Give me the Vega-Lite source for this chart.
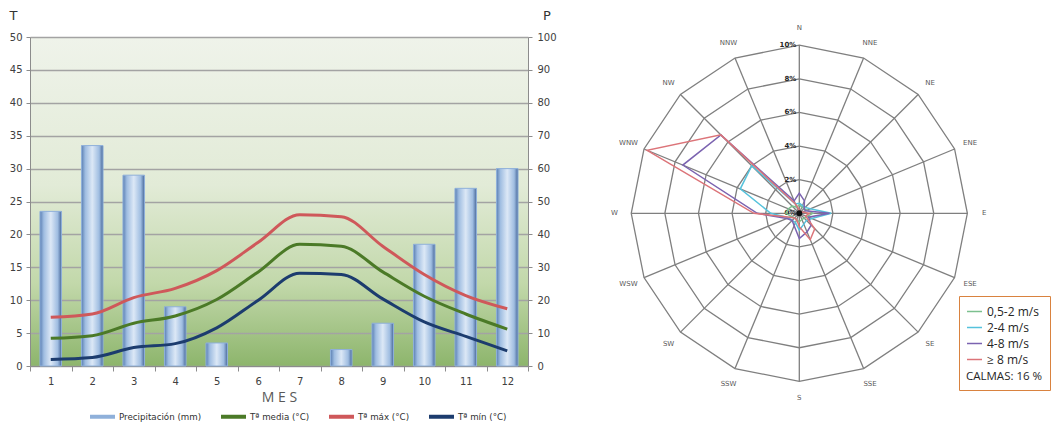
{
  "$schema": "https://vega.github.io/schema/vega-lite/v6.json",
  "background": "white",
  "padding": {"left": 9, "top": 9, "right": 0, "bottom": 0},
  "bounds": "flush",
  "spacing": 95,
  "config": {"view": {"stroke": null}, "font": "DejaVu Sans"},
  "datasets": {
    "precip": [
      {"month": 1, "P": 47}, {"month": 2, "P": 67}, {"month": 3, "P": 58}, {"month": 4, "P": 18},
      {"month": 5, "P": 7}, {"month": 8, "P": 5}, {"month": 9, "P": 13}, {"month": 10, "P": 37},
      {"month": 11, "P": 54}, {"month": 12, "P": 60}
    ],
    "temps": [
      {"month": 1, "serie": "Tª media (°C)", "T": 4.2}, {"month": 2, "serie": "Tª media (°C)", "T": 4.6},
      {"month": 3, "serie": "Tª media (°C)", "T": 6.5}, {"month": 4, "serie": "Tª media (°C)", "T": 7.6},
      {"month": 5, "serie": "Tª media (°C)", "T": 10.1}, {"month": 6, "serie": "Tª media (°C)", "T": 14.3},
      {"month": 7, "serie": "Tª media (°C)", "T": 18.5}, {"month": 8, "serie": "Tª media (°C)", "T": 18.2},
      {"month": 9, "serie": "Tª media (°C)", "T": 14.3}, {"month": 10, "serie": "Tª media (°C)", "T": 10.6},
      {"month": 11, "serie": "Tª media (°C)", "T": 7.9}, {"month": 12, "serie": "Tª media (°C)", "T": 5.6},
      {"month": 1, "serie": "Tª máx (°C)", "T": 7.4}, {"month": 2, "serie": "Tª máx (°C)", "T": 7.9},
      {"month": 3, "serie": "Tª máx (°C)", "T": 10.4}, {"month": 4, "serie": "Tª máx (°C)", "T": 11.8},
      {"month": 5, "serie": "Tª máx (°C)", "T": 14.5}, {"month": 6, "serie": "Tª máx (°C)", "T": 18.8},
      {"month": 7, "serie": "Tª máx (°C)", "T": 23.0}, {"month": 8, "serie": "Tª máx (°C)", "T": 22.7},
      {"month": 9, "serie": "Tª máx (°C)", "T": 18.2}, {"month": 10, "serie": "Tª máx (°C)", "T": 13.9},
      {"month": 11, "serie": "Tª máx (°C)", "T": 10.7}, {"month": 12, "serie": "Tª máx (°C)", "T": 8.7},
      {"month": 1, "serie": "Tª mín (°C)", "T": 1.0}, {"month": 2, "serie": "Tª mín (°C)", "T": 1.3},
      {"month": 3, "serie": "Tª mín (°C)", "T": 2.8}, {"month": 4, "serie": "Tª mín (°C)", "T": 3.4},
      {"month": 5, "serie": "Tª mín (°C)", "T": 5.8}, {"month": 6, "serie": "Tª mín (°C)", "T": 10.0},
      {"month": 7, "serie": "Tª mín (°C)", "T": 14.1}, {"month": 8, "serie": "Tª mín (°C)", "T": 13.9},
      {"month": 9, "serie": "Tª mín (°C)", "T": 10.2}, {"month": 10, "serie": "Tª mín (°C)", "T": 6.7},
      {"month": 11, "serie": "Tª mín (°C)", "T": 4.5}, {"month": 12, "serie": "Tª mín (°C)", "T": 2.3}
    ],
    "dirs": [
      {"dir": "N", "angle": 0, "0,5-2 m/s": 0.5, "2-4 m/s": 0.6, "4-8 m/s": 1.2, "≥ 8 m/s": 0.2},
      {"dir": "NNE", "angle": 22.5, "0,5-2 m/s": 0.4, "2-4 m/s": 0.5, "4-8 m/s": 0.8, "≥ 8 m/s": 0.1},
      {"dir": "NE", "angle": 45, "0,5-2 m/s": 0.4, "2-4 m/s": 0.5, "4-8 m/s": 0.4, "≥ 8 m/s": 0.1},
      {"dir": "ENE", "angle": 67.5, "0,5-2 m/s": 0.5, "2-4 m/s": 0.7, "4-8 m/s": 0.4, "≥ 8 m/s": 0.2},
      {"dir": "E", "angle": 90, "0,5-2 m/s": 0.8, "2-4 m/s": 1.9, "4-8 m/s": 1.8, "≥ 8 m/s": 0.6},
      {"dir": "ESE", "angle": 112.5, "0,5-2 m/s": 0.5, "2-4 m/s": 0.8, "4-8 m/s": 0.6, "≥ 8 m/s": 0.4},
      {"dir": "SE", "angle": 135, "0,5-2 m/s": 0.4, "2-4 m/s": 0.6, "4-8 m/s": 1.0, "≥ 8 m/s": 1.3},
      {"dir": "SSE", "angle": 157.5, "0,5-2 m/s": 0.4, "2-4 m/s": 0.7, "4-8 m/s": 1.2, "≥ 8 m/s": 1.7},
      {"dir": "S", "angle": 180, "0,5-2 m/s": 0.5, "2-4 m/s": 1.0, "4-8 m/s": 1.5, "≥ 8 m/s": 0.8},
      {"dir": "SSW", "angle": 202.5, "0,5-2 m/s": 0.4, "2-4 m/s": 0.6, "4-8 m/s": 0.8, "≥ 8 m/s": 0.4},
      {"dir": "SW", "angle": 225, "0,5-2 m/s": 0.4, "2-4 m/s": 0.6, "4-8 m/s": 0.6, "≥ 8 m/s": 0.4},
      {"dir": "WSW", "angle": 247.5, "0,5-2 m/s": 0.5, "2-4 m/s": 0.7, "4-8 m/s": 0.8, "≥ 8 m/s": 0.6},
      {"dir": "W", "angle": 270, "0,5-2 m/s": 0.8, "2-4 m/s": 1.7, "4-8 m/s": 2.5, "≥ 8 m/s": 2.7},
      {"dir": "WNW", "angle": 292.5, "0,5-2 m/s": 0.7, "2-4 m/s": 3.8, "4-8 m/s": 7.5, "≥ 8 m/s": 9.8},
      {"dir": "NW", "angle": 315, "0,5-2 m/s": 0.6, "2-4 m/s": 4.0, "4-8 m/s": 6.6, "≥ 8 m/s": 6.6},
      {"dir": "NNW", "angle": 337.5, "0,5-2 m/s": 0.4, "2-4 m/s": 0.6, "4-8 m/s": 0.8, "≥ 8 m/s": 0.6}
    ],
    "rings": [
      {"ring": 0, "label": "0%", "angles": [0, 22.5, 45, 67.5, 90, 112.5, 135, 157.5, 180, 202.5, 225, 247.5, 270, 292.5, 315, 337.5]},
      {"ring": 2, "label": "2%", "angles": [0, 22.5, 45, 67.5, 90, 112.5, 135, 157.5, 180, 202.5, 225, 247.5, 270, 292.5, 315, 337.5]},
      {"ring": 4, "label": "4%", "angles": [0, 22.5, 45, 67.5, 90, 112.5, 135, 157.5, 180, 202.5, 225, 247.5, 270, 292.5, 315, 337.5]},
      {"ring": 6, "label": "6%", "angles": [0, 22.5, 45, 67.5, 90, 112.5, 135, 157.5, 180, 202.5, 225, 247.5, 270, 292.5, 315, 337.5]},
      {"ring": 8, "label": "8%", "angles": [0, 22.5, 45, 67.5, 90, 112.5, 135, 157.5, 180, 202.5, 225, 247.5, 270, 292.5, 315, 337.5]},
      {"ring": 10, "label": "10%", "angles": [0, 22.5, 45, 67.5, 90, 112.5, 135, 157.5, 180, 202.5, 225, 247.5, 270, 292.5, 315, 337.5]}
    ]
  },
  "resolve": {"scale": {"stroke": "independent", "color": "independent"}, "legend": {"stroke": "independent", "color": "independent"}},
  "hconcat": [
    {
      "width": 498,
      "height": 329,
      "view": {
        "stroke": null,
        "fill": {
          "gradient": "linear", "x1": 0, "y1": 0, "x2": 0, "y2": 1,
          "stops": [
            {"offset": 0, "color": "#eff3ea"},
            {"offset": 0.45, "color": "#e2ebd7"},
            {"offset": 0.75, "color": "#c2d8aa"},
            {"offset": 1, "color": "#8db56c"}
          ]
        }
      },
      "encoding": {
        "x": {
          "field": "month", "type": "ordinal",
          "scale": {"paddingInner": 0, "paddingOuter": 0},
          "axis": {
            "title": "M E S", "labelAngle": 0, "tickBand": "extent", "tickSize": 5, "labelPadding": 5,
            "domainColor": "#8c8c8c", "tickColor": "#8c8c8c", "labelFontSize": 10, "labelColor": "#404040",
            "titleFontSize": 14, "titleFontWeight": "normal", "titleColor": "#595959", "titlePadding": 4,
            "titleFont": "Open Sans"
          }
        }
      },
      "layer": [
        {
          "data": {"name": "precip"},
          "mark": {
            "type": "bar", "width": {"band": 0.52}, "strokeWidth": 1,
            "fill": {
              "gradient": "linear", "x1": 0, "y1": 0, "x2": 1, "y2": 0,
              "stops": [
                {"offset": 0, "color": "#5a7fb3"},
                {"offset": 0.18, "color": "#9fbde1"},
                {"offset": 0.5, "color": "#dce8f6"},
                {"offset": 0.82, "color": "#9fbde1"},
                {"offset": 1, "color": "#48689a"}
              ]
            }
          },
          "encoding": {
            "y": {
              "field": "P", "type": "quantitative", "scale": {"domain": [0, 100], "nice": false},
              "axis": {
                "orient": "right", "values": [0, 10, 20, 30, 40, 50, 60, 70, 80, 90, 100], "grid": false,
                "title": "P", "titleAngle": 0, "titleX": 18.5, "titleY": -22, "titleAlign": "center", "titleBaseline": "middle",
                "titleFontSize": 13, "titleFontWeight": "normal", "titleColor": "#333333",
                "domainColor": "#8c8c8c", "tickColor": "#8c8c8c", "tickSize": 4, "labelPadding": 5,
                "labelFontSize": 10, "labelColor": "#404040"
              }
            },
            "stroke": {"datum": "Precipitación (mm)", "type": "nominal"}
          }
        },
        {
          "data": {"name": "temps"},
          "mark": {"type": "line", "strokeWidth": 3, "interpolate": "monotone"},
          "encoding": {
            "y": {
              "field": "T", "type": "quantitative", "scale": {"domain": [0, 50], "nice": false},
              "axis": {
                "orient": "left", "values": [0, 5, 10, 15, 20, 25, 30, 35, 40, 45, 50],
                "title": "T", "titleAngle": 0, "titleX": -17, "titleY": -22, "titleAlign": "center", "titleBaseline": "middle",
                "titleFontSize": 13, "titleFontWeight": "normal", "titleColor": "#333333",
                "grid": true, "gridColor": "#a3a3a3", "gridWidth": 1.5,
                "domainColor": "#8c8c8c", "tickColor": "#8c8c8c", "tickSize": 4, "labelPadding": 4,
                "labelFontSize": 10, "labelColor": "#404040"
              }
            },
            "stroke": {
              "field": "serie", "type": "nominal",
              "scale": {
                "domain": ["Precipitación (mm)", "Tª media (°C)", "Tª máx (°C)", "Tª mín (°C)"],
                "range": ["#8fb0da", "#4b7a27", "#cf585a", "#1c3c6e"]
              },
              "legend": {
                "orient": "none", "legendX": 58, "legendY": 365, "direction": "horizontal", "title": null,
                "symbolType": "stroke", "symbolSize": 625, "symbolStrokeWidth": 4, "labelFontSize": 8.7,
                "labelColor": "#303030", "columnPadding": 11, "labelOffset": 2
              }
            }
          }
        }
      ],
      "resolve": {"scale": {"y": "independent"}}
    },
    {
      "width": 352.6,
      "height": 352.6,
      "layer": [
        {
          "data": {"name": "rings"},
          "transform": [
            {"flatten": ["angles"], "as": ["angle"]},
            {"calculate": "datum.ring*sin(datum.angle*PI/180)", "as": "x"},
            {"calculate": "datum.ring*cos(datum.angle*PI/180)", "as": "y"}
          ],
          "mark": {"type": "line", "interpolate": "linear-closed", "color": "#7f7f7f", "strokeWidth": 1.3},
          "encoding": {
            "x": {"field": "x", "type": "quantitative", "scale": {"domain": [-10.49, 10.49], "nice": false, "zero": false}, "axis": null},
            "y": {"field": "y", "type": "quantitative", "scale": {"domain": [-10.49, 10.49], "nice": false, "zero": false}, "axis": null},
            "detail": {"field": "ring", "type": "nominal"},
            "order": {"field": "angle", "type": "quantitative"}
          }
        },
        {
          "data": {"name": "dirs"},
          "transform": [
            {"calculate": "10*sin(datum.angle*PI/180)", "as": "ex"},
            {"calculate": "10*cos(datum.angle*PI/180)", "as": "ey"}
          ],
          "mark": {"type": "rule", "color": "#7f7f7f", "strokeWidth": 1.3},
          "encoding": {
            "x": {"field": "ex", "type": "quantitative"},
            "y": {"field": "ey", "type": "quantitative"},
            "x2": {"datum": 0},
            "y2": {"datum": 0}
          }
        },
        {
          "data": {"name": "dirs"},
          "transform": [
            {"calculate": "11*sin(datum.angle*PI/180)", "as": "lx"},
            {"calculate": "11*cos(datum.angle*PI/180)", "as": "ly"}
          ],
          "mark": {"type": "text", "fontSize": 7, "color": "#595959", "baseline": "middle", "align": "center"},
          "encoding": {
            "x": {"field": "lx", "type": "quantitative"},
            "y": {"field": "ly", "type": "quantitative"},
            "text": {"field": "dir"}
          }
        },
        {
          "data": {"name": "rings"},
          "mark": {"type": "text", "fontSize": 7, "fontWeight": "bold", "color": "#262626", "baseline": "middle", "align": "right", "dx": -3},
          "encoding": {
            "x": {"datum": 0, "type": "quantitative"},
            "y": {"field": "ring", "type": "quantitative"},
            "text": {"field": "label"}
          }
        },
        {
          "data": {"name": "dirs"},
          "transform": [
            {"fold": ["0,5-2 m/s", "2-4 m/s", "4-8 m/s", "≥ 8 m/s"], "as": ["speed", "value"]},
            {"calculate": "datum.value*sin(datum.angle*PI/180)", "as": "x"},
            {"calculate": "datum.value*cos(datum.angle*PI/180)", "as": "y"}
          ],
          "mark": {"type": "line", "interpolate": "linear-closed", "strokeWidth": 1.5},
          "encoding": {
            "x": {"field": "x", "type": "quantitative"},
            "y": {"field": "y", "type": "quantitative"},
            "order": {"field": "angle", "type": "quantitative"},
            "color": {
              "field": "speed", "type": "nominal",
              "scale": {"domain": ["0,5-2 m/s", "2-4 m/s", "4-8 m/s", "≥ 8 m/s"], "range": ["#7cc08f", "#55c2dc", "#7b63b0", "#dc7479"]},
              "legend": {
                "orient": "none", "legendX": 336, "legendY": 259, "title": "CALMAS: 16 %", "titleOrient": "bottom",
                "symbolType": "stroke", "symbolSize": 225, "symbolStrokeWidth": 1.5,
                "labelFont": "Open Sans", "labelFontSize": 12, "labelColor": "#262626",
                "titleFont": "Open Sans", "titleFontSize": 11.5, "titleFontWeight": "normal", "titleColor": "#262626",
                "strokeColor": "#d9823f", "fillColor": "white", "padding": 7, "rowPadding": 1, "titlePadding": 5
              }
            }
          }
        },
        {
          "data": {"values": [{"c": 0}]},
          "mark": {"type": "point", "filled": true, "color": "#111111", "size": 35, "opacity": 1},
          "encoding": {
            "x": {"datum": 0, "type": "quantitative"},
            "y": {"datum": 0, "type": "quantitative"}
          }
        }
      ]
    }
  ]
}
